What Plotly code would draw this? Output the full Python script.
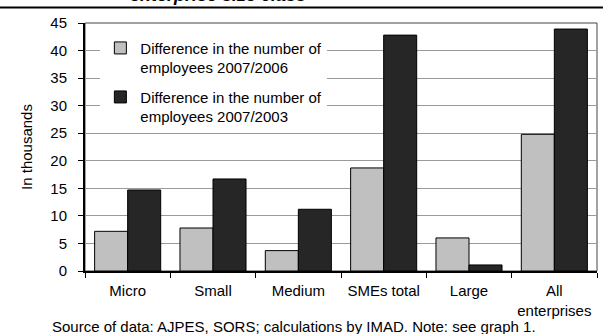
import plotly.graph_objects as go

# Change in employment by enterprise size class (thousands)
categories = ["Micro", "Small", "Medium", "SMEs total", "Large", "All<br>enterprises"]
diff_2007_2006 = [7.2, 7.8, 3.7, 18.7, 6.0, 24.8]
diff_2007_2003 = [14.7, 16.7, 11.2, 42.8, 1.1, 43.9]

series_names = [
    "Difference in the number of<br>employees 2007/2006",
    "Difference in the number of<br>employees 2007/2003",
]
y_ticks = [0, 5, 10, 15, 20, 25, 30, 35, 40, 45]

FONT = "Liberation Sans, Arial, sans-serif"

fig = go.Figure()
fig.add_trace(go.Bar(
    x=categories, y=diff_2007_2006, name=series_names[0], legendgroup="a",
    marker=dict(color="#c0c0c0", line=dict(color="#000000", width=1)),
))
fig.add_trace(go.Bar(
    x=categories, y=diff_2007_2003, name=series_names[1], legendgroup="b",
    marker=dict(color="#262626", line=dict(color="#000000", width=1)),
))

fig.update_layout(
    width=603, height=334,
    margin=dict(l=85, r=6, t=23, b=63),
    paper_bgcolor="white", plot_bgcolor="white",
    font=dict(family=FONT, size=15, color="#000000"),
    barmode="group", bargap=0.226, bargroupgap=0,
    showlegend=True,
    legend=dict(
        x=0.03, y=0.965, xanchor="left", yanchor="top",
        bgcolor="white", borderwidth=0,
        font=dict(family=FONT, size=15, color="#000000"),
        traceorder="grouped", tracegroupgap=7, valign="top",
    ),
    xaxis=dict(
        type="category", showline=True, linecolor="#000000", linewidth=2,
        ticks="outside", ticklen=5, tickcolor="#000000", tickwidth=1,
        tickson="boundaries", ticklabelstandoff=5,
        showgrid=False, tickfont=dict(family=FONT, size=15),
    ),
    yaxis=dict(
        range=[0, 45], tickvals=y_ticks, showline=True, linecolor="#000000",
        linewidth=2, ticks="outside", ticklen=5, tickcolor="#000000",
        ticklabelstandoff=8,
        showgrid=True, gridcolor="#9a9a9a", gridwidth=1, zeroline=False,
        tickfont=dict(family=FONT, size=15),
        title=dict(text="In thousands", font=dict(family=FONT, size=15), standoff=14),
    ),
    shapes=[
        # thin frame around the plotting area
        dict(type="rect", xref="paper", yref="paper", x0=0, x1=1, y0=0, y1=1,
             line=dict(color="#444444", width=1), layer="below"),
        # rule under the heading
        dict(type="line", xref="paper", yref="paper", x0=-0.17, x1=1.02,
             y0=1.0625, y1=1.0625, line=dict(color="#000000", width=2)),
    ],
    annotations=[
        dict(text="<b><i>enterprise size class</i></b>", xref="paper", yref="paper",
             x=0.26, y=1.066, xanchor="center", yanchor="bottom", showarrow=False,
             font=dict(family=FONT, size=18, color="#000000")),
        dict(text="Source of data: AJPES, SORS; calculations by IMAD. Note: see graph 1.",
             xref="paper", yref="paper", x=0.408, y=-0.222, xanchor="center",
             yanchor="middle", showarrow=False,
             font=dict(family=FONT, size=15, color="#000000")),
    ],
)

fig.write_html("out.html")
